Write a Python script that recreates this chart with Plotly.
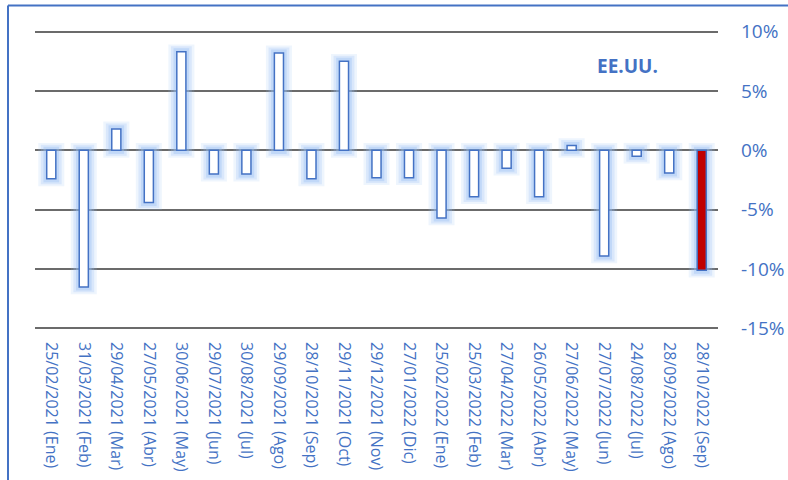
import plotly.graph_objects as go

categories = [
    "25/02/2021 (Ene)", "31/03/2021 (Feb)", "29/04/2021 (Mar)", "27/05/2021 (Abr)",
    "30/06/2021 (May)", "29/07/2021 (Jun)", "30/08/2021 (Jul)", "29/09/2021 (Ago)",
    "28/10/2021 (Sep)", "29/11/2021 (Oct)", "29/12/2021 (Nov)", "27/01/2022 (Dic)",
    "25/02/2022 (Ene)", "25/03/2022 (Feb)", "27/04/2022 (Mar)", "26/05/2022 (Abr)",
    "27/06/2022 (May)", "27/07/2022 (Jun)", "24/08/2022 (Jul)", "28/09/2022 (Ago)",
    "28/10/2022 (Sep)",
]
values = [
    -2.4, -11.5, 1.8, -4.4, 8.3, -2.0, -2.0, 8.2, -2.4, 7.5, -2.3, -2.3,
    -5.7, -3.9, -1.5, -3.9, 0.4, -8.9, -0.5, -1.9, -10.1,
]
tick_vals = [10, 5, 0, -5, -10, -15]
tick_text = ["10%", "5%", "0%", "-5%", "-10%", "-15%"]
title_text = "EE.UU."

BLUE = "#4472C4"
fills = ["#C00000" if i == len(values) - 1 else "white" for i in range(len(values))]

fig = go.Figure()

# glow layers (derived from values)
sgn = [1 if v >= 0 else -1 for v in values]
for width, ext, alpha in [(0.80, 0.62, 0.16), (0.64, 0.46, 0.24), (0.48, 0.30, 0.36)]:
    fig.add_trace(go.Bar(
        x=categories,
        y=[v + 2 * s * ext for v, s in zip(values, sgn)],
        base=[-s * ext for s in sgn],
        width=width,
        marker=dict(color=f"rgba(150,190,245,{alpha})", line=dict(width=0)),
        hoverinfo="skip", showlegend=False,
    ))

fig.add_trace(go.Bar(
    x=categories, y=values, width=0.28,
    marker=dict(color=fills, line=dict(color=BLUE, width=1.5)),
    showlegend=False,
))

W, H = 788, 480
PPU = 296 / 25.0          # pixels per percentage point
PAD = 0.3
L, R = 35, 70
T = 32 - PAD * PPU
B = H - 328 - PAD * PPU
pw, ph = W - L - R, H - T - B

fig.update_layout(
    width=W, height=H, barmode="overlay",
    margin=dict(l=L, r=R, t=T, b=B, pad=0, autoexpand=False),
    paper_bgcolor="white", plot_bgcolor="white",
    font=dict(family="Open Sans", color=BLUE),
    xaxis=dict(
        type="category", tickangle=90, tickfont=dict(size=16, color=BLUE),
        showgrid=False, showline=False, zeroline=False, ticks="", automargin=False,
        ticklabelstandoff=9, range=[-0.5, len(categories) - 0.5],
    ),
    yaxis=dict(
        side="right", range=[-15 - PAD, 10 + PAD], tickvals=tick_vals, ticktext=tick_text,
        tickfont=dict(size=19, color=BLUE), showgrid=True, automargin=False,
        gridcolor="#6b6b6b", gridwidth=1.6, zeroline=True, zerolinecolor="#6b6b6b",
        zerolinewidth=1.6, showline=False, ticks="", ticklabelstandoff=22,
    ),
    annotations=[dict(
        text=f"<b>{title_text}</b>", xref="paper", yref="paper",
        x=(627 - L) / pw, y=1 - (66 - T) / ph, showarrow=False,
        xanchor="center", yanchor="middle",
        font=dict(family="Open Sans", size=19, color=BLUE),
    )],
    shapes=[
        dict(type="line", xref="paper", yref="paper",
             x0=(8 - L) / pw, x1=(8 - L) / pw, y0=1 + (T - 6) / ph, y1=-(B + 20) / ph,
             line=dict(color=BLUE, width=2)),
        dict(type="line", xref="paper", yref="paper",
             x0=(8 - L) / pw, x1=(W + 20 - L) / pw, y0=1 + (T - 6) / ph, y1=1 + (T - 6) / ph,
             line=dict(color=BLUE, width=2)),
    ],
)

fig.write_html("out.html")
